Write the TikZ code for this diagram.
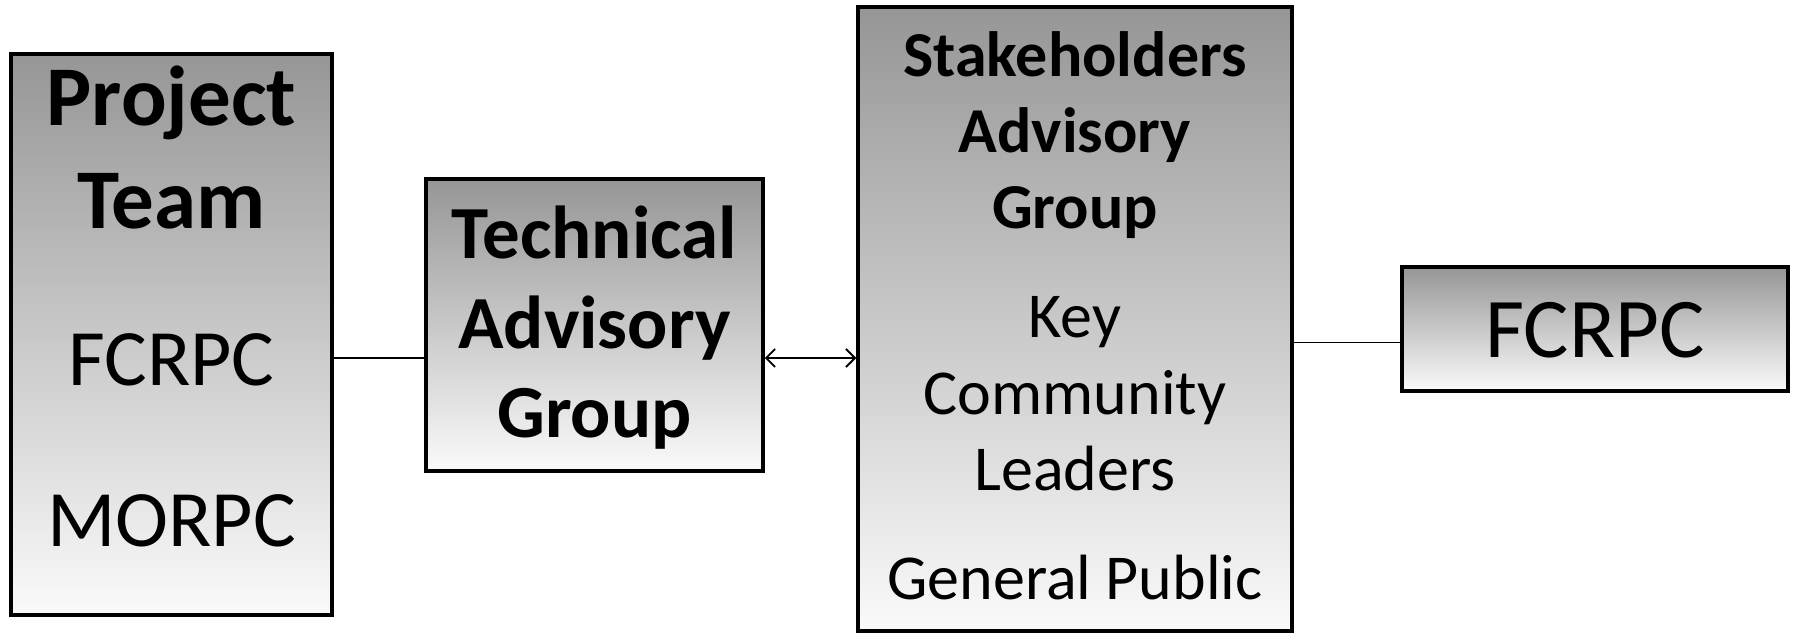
\documentclass[tikz,border=0pt]{standalone}
\usepackage{fontspec}
\setmainfont{Carlito}
\usetikzlibrary{arrows.meta}
\tikzset{
  box/.style={draw=black, line width=3.5pt, top color={rgb,255:red,150;green,150;blue,150}, bottom color={rgb,255:red,250;green,250;blue,250}, inner sep=0pt},
  txt/.style={anchor=base, inner sep=0pt},
  conn/.style={line width=1.8pt, draw=black}
}
\begin{document}
\begin{tikzpicture}[x=1pt,y=-1pt]
\useasboundingbox (0,0) rectangle (1793,633);
% boxes
\node[box, minimum width=321pt, minimum height=561pt] (proj) at (171.5,334.5) {};
\node[box, minimum width=337pt, minimum height=292pt] (tech) at (594.5,325) {};
\node[box, minimum width=434pt, minimum height=624pt] (stake) at (1075,319) {};
\node[box, minimum width=386pt, minimum height=124pt] (fc) at (1595,329) {};
% texts
\node[txt, font=\fontsize{85}{100}\selectfont\bfseries] (p1) at (171.5,125) {Project};
\node[txt, font=\fontsize{85}{100}\selectfont\bfseries] (p2) at (171.5,228) {Team};
\node[txt, font=\fontsize{80}{96}\selectfont] (p3) at (171.5,385.5) {FCRPC};
\node[txt, font=\fontsize{80}{96}\selectfont] (p4) at (171.5,546) {MORPC};
\node[txt, font=\fontsize{75}{90}\selectfont\bfseries] (t1) at (594.5,258.4) {Technical};
\node[txt, font=\fontsize{75}{90}\selectfont\bfseries] (t2) at (594.5,348) {Advisory};
\node[txt, font=\fontsize{75}{90}\selectfont\bfseries] (t3) at (594.5,437) {Group};
\node[txt, font=\fontsize{64}{76}\selectfont\bfseries] (s1) at (1075,76) {Stakeholders};
\node[txt, font=\fontsize{64}{76}\selectfont\bfseries] (s2) at (1075,152.6) {Advisory};
\node[txt, font=\fontsize{64}{76}\selectfont\bfseries] (s3) at (1075,228) {Group};
\node[txt, font=\fontsize{64}{76}\selectfont] (s4) at (1075,337) {Key};
\node[txt, font=\fontsize{64}{76}\selectfont] (s5) at (1075,414) {Community};
\node[txt, font=\fontsize{64}{76}\selectfont] (s6) at (1075,490.5) {Leaders};
\node[txt, font=\fontsize{64}{76}\selectfont] (s7) at (1075,599.5) {General Public};
\node[txt, font=\fontsize{85}{100}\selectfont] (f1) at (1595,357) {FCRPC};
% connectors
\coordinate (ya) at (0,358);
\coordinate (yb) at (0,342.5);
\draw[conn] (proj.east |- ya) -- (tech.west |- ya);
\draw[conn, {Straight Barb[length=9pt,width=18pt,line width=1.8pt]}-{Straight Barb[length=9pt,width=18pt,line width=1.8pt]}] (tech.east |- ya) -- (stake.west |- ya);
\draw[conn] (stake.east |- yb) -- (fc.west |- yb);
\end{tikzpicture}
\end{document}
